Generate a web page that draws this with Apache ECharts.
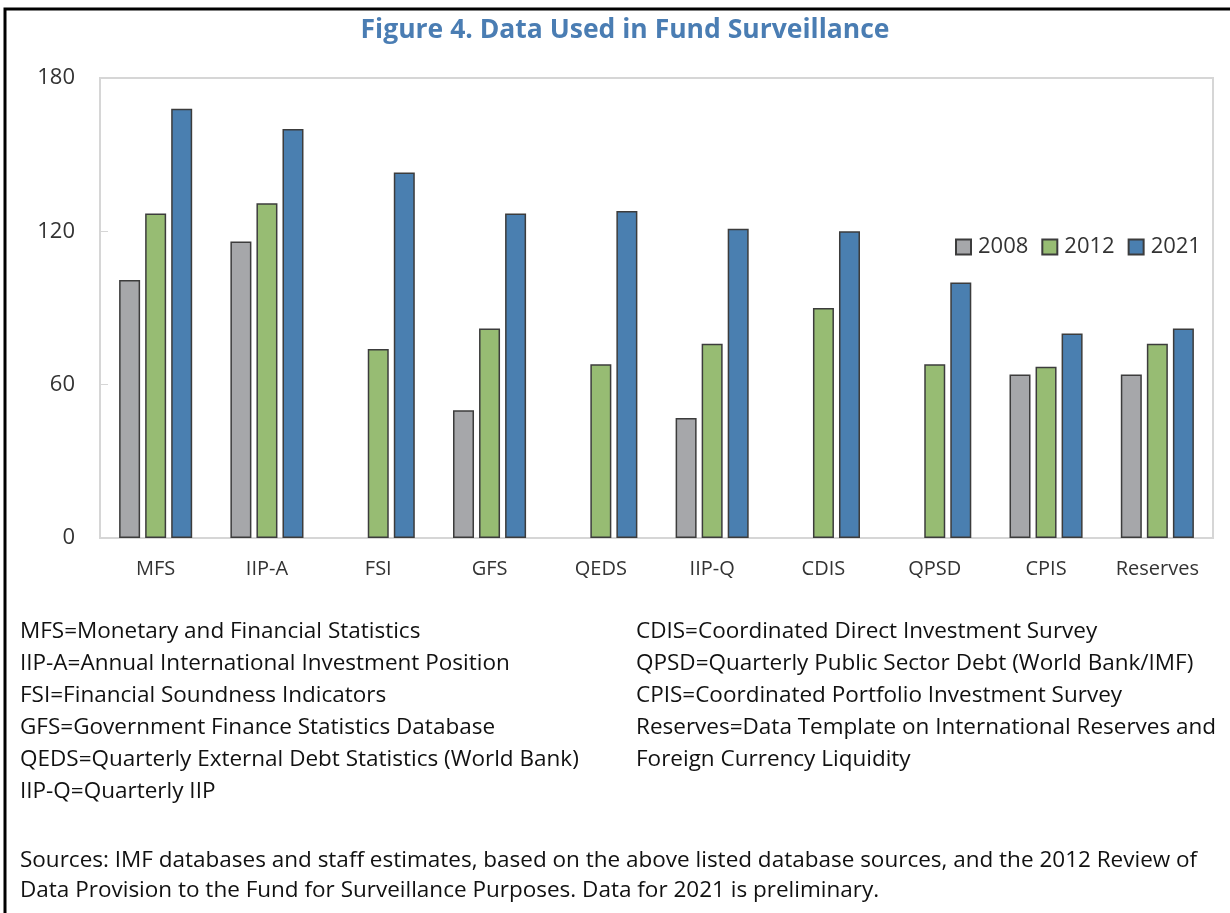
<!DOCTYPE html>
<html>
<head>
<meta charset="utf-8">
<script src="https://cdn.jsdelivr.net/npm/echarts@6/dist/echarts.min.js"></script>
<style>
html, body { margin: 0; padding: 0; background: #fff; }
#chart { width: 1230px; height: 913px; }
</style>
</head>
<body>
<div id="chart"></div>
<script>
// categories and values
const categories = ['MFS', 'IIP-A', 'FSI', 'GFS', 'QEDS', 'IIP-Q', 'CDIS', 'QPSD', 'CPIS', 'Reserves'];
const years = ['2008', '2012', '2021'];
const v2008 = [101, 116, null, 50, null, 47, null, null, 64, 64];
const v2012 = [127, 131, 74, 82, 68, 76, 90, 68, 67, 76];
const v2021 = [168, 160, 143, 127, 128, 121, 120, 100, 80, 82];
const yTicks = [0, 60, 120, 180];

const titleText = 'Figure 4. Data Used in Fund Surveillance';
const notesLeft = [
	'MFS=Monetary and Financial Statistics',
	'IIP-A=Annual International Investment Position',
	'FSI=Financial Soundness Indicators',
	'GFS=Government Finance Statistics Database',
	'QEDS=Quarterly External Debt Statistics (World Bank)',
	'IIP-Q=Quarterly IIP'
];
const notesRight = [
	'CDIS=Coordinated Direct Investment Survey',
	'QPSD=Quarterly Public Sector Debt (World Bank/IMF)',
	'CPIS=Coordinated Portfolio Investment Survey',
	'Reserves=Data Template on International Reserves and',
	'Foreign Currency Liquidity'
];
const sources = [
	'Sources: IMF databases and staff estimates, based on the above listed database sources, and the 2012 Review of',
	'Data Provision to the Fund for Surveillance Purposes. Data for 2021 is preliminary.'
];

const colors = ['#a6a7aa', '#97bc73', '#4a7fb0'];
const font = '"Open Sans", "Noto Sans", sans-serif';
const noteFont = '22.5px ' + font;

const chart = echarts.init(document.getElementById('chart'));

const textEls = [];
// title
textEls.push({
	type: 'text', x: 625, y: 30,
	style: { text: titleText, font: 'bold 26.5px ' + font, fill: '#4a7db3', textAlign: 'center', textVerticalAlign: 'middle' }
});
notesLeft.forEach((t, i) => {
	textEls.push({ type: 'text', x: 20, y: 632 + i * 32,
		style: { text: t, font: noteFont, fill: '#111', textVerticalAlign: 'middle' } });
});
notesRight.forEach((t, i) => {
	textEls.push({ type: 'text', x: 636, y: 632 + i * 32,
		style: { text: t, font: noteFont, fill: '#111', textVerticalAlign: 'middle' } });
});
sources.forEach((t, i) => {
	textEls.push({ type: 'text', x: 20, y: 861 + i * 30,
		style: { text: t, font: noteFont, fill: '#111', textVerticalAlign: 'middle' } });
});
// outer frame (right and bottom edges fall outside the picture)
textEls.push({
	type: 'rect', shape: { x: 5, y: 9, width: 1400, height: 1000 },
	style: { fill: 'none', stroke: '#000', lineWidth: 3 }, silent: true
});

const seriesData = [v2008, v2012, v2021];
const series = years.map((y, i) => ({
	name: y,
	type: 'bar',
	data: seriesData[i],
	barWidth: 21,
	barGap: '24%',
	itemStyle: { color: colors[i], borderColor: '#3c3c3c', borderWidth: 1.5 }
}));

const option = {
	animation: false,
	backgroundColor: '#fff',
	textStyle: { fontFamily: font },
	legend: {
		data: years,
		left: 950,
		top: 231,
		icon: 'rect',
		itemWidth: 15,
		itemHeight: 15,
		itemGap: 13,
		textStyle: { fontSize: 22, color: '#333', padding: [0, 0, 0, 2] }
	},
	grid: {
		left: 100, right: 17, top: 78, bottom: 375,
		show: true, borderColor: '#d6d6d6', borderWidth: 2
	},
	xAxis: {
		type: 'category',
		data: categories,
		axisLine: { lineStyle: { color: '#d6d6d6', width: 2 } },
		axisTick: { inside: true, length: 6, lineStyle: { color: '#d6d6d6' } },
		axisLabel: { interval: 0, fontSize: 20, color: '#333', margin: 21 }
	},
	yAxis: {
		type: 'value',
		min: yTicks[0],
		max: yTicks[yTicks.length - 1],
		interval: 60,
		axisLine: { show: true, lineStyle: { color: '#d6d6d6', width: 2 } },
		axisTick: { show: true, inside: true, length: 8, lineStyle: { color: '#d6d6d6' } },
		splitLine: { show: false },
		axisLabel: { fontSize: 22, color: '#333', margin: 25 }
	},
	graphic: textEls,
	series: series
};
chart.setOption(option);
</script>
</body>
</html>
